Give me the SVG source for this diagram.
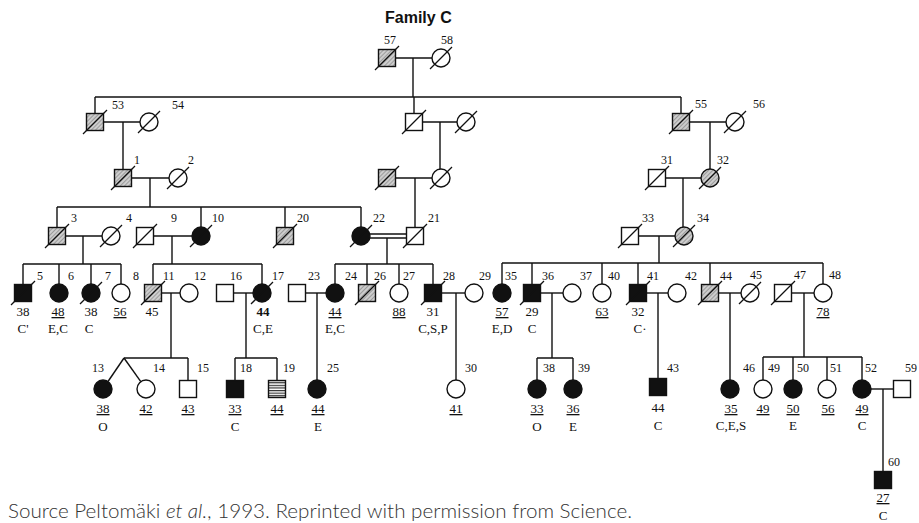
<svg xmlns="http://www.w3.org/2000/svg" width="919" height="523" viewBox="0 0 919 523">
<style>
.ln{stroke:#111;stroke-width:1.4;fill:none}
.sh{stroke:#111;stroke-width:1.4}
.op{fill:#fff}
.fi{fill:#111}
.ha{fill:url(#hatch)}
.st{fill:url(#stripe)}
.sl{stroke:#111;stroke-width:1.3}
.lb{font-family:"Liberation Serif",serif;font-size:12px;fill:#111}
.ag{font-family:"Liberation Serif",serif;font-size:13px;fill:#111;text-anchor:middle}
.u{text-decoration:underline}
</style>
<defs>
<pattern id="hatch" width="3" height="3" patternUnits="userSpaceOnUse" patternTransform="rotate(45)">
<rect width="3" height="3" fill="#cdcdcd"/>
<line x1="0" y1="0" x2="0" y2="3" stroke="#6a6a6a" stroke-width="1"/>
</pattern>
<pattern id="stripe" width="4" height="2.6" patternUnits="userSpaceOnUse">
<rect width="4" height="2.6" fill="#fff"/>
<line x1="0" y1="0.6" x2="4" y2="0.6" stroke="#222" stroke-width="1.1"/>
</pattern>
</defs>
<rect width="919" height="523" fill="#fff"/>
<text x="385" y="23" font-family="Liberation Sans, sans-serif" font-weight="bold" font-size="16" fill="#111">Family C</text>

<g id="connectors" class="ln">
<line x1="395.5" y1="58" x2="432" y2="58"/>
<line x1="413" y1="58" x2="413" y2="97"/>
<line x1="95" y1="97" x2="681" y2="97"/>
<line x1="95" y1="97" x2="95" y2="113.5"/>
<line x1="414" y1="97" x2="414" y2="113.5"/>
<line x1="681" y1="97" x2="681" y2="113.5"/>
<line x1="103.5" y1="122" x2="140" y2="122"/>
<line x1="123" y1="122" x2="123" y2="169.5"/>
<line x1="422.5" y1="122" x2="457" y2="122"/>
<line x1="440" y1="122" x2="440" y2="169"/>
<line x1="689.5" y1="122" x2="726" y2="122"/>
<line x1="710" y1="122" x2="710" y2="169"/>
<line x1="131.5" y1="178" x2="169" y2="178"/>
<line x1="150" y1="178" x2="150" y2="207"/>
<line x1="57" y1="207" x2="361" y2="207"/>
<line x1="57" y1="207" x2="57" y2="227.5"/>
<line x1="201" y1="207" x2="201" y2="227"/>
<line x1="285" y1="207" x2="285" y2="227.5"/>
<line x1="361" y1="207" x2="361" y2="227"/>
<line x1="395.5" y1="178" x2="432" y2="178"/>
<line x1="415" y1="178" x2="415" y2="227.5"/>
<line x1="665.5" y1="178" x2="701" y2="178"/>
<line x1="683" y1="178" x2="683" y2="227"/>
<line x1="65.5" y1="236" x2="102" y2="236"/>
<line x1="83" y1="236" x2="83" y2="264"/>
<line x1="23" y1="264" x2="121" y2="264"/>
<line x1="23" y1="264" x2="23" y2="284.5"/>
<line x1="59" y1="264" x2="59" y2="284"/>
<line x1="91" y1="264" x2="91" y2="284"/>
<line x1="121" y1="264" x2="121" y2="284"/>
<line x1="153.5" y1="236" x2="192" y2="236"/>
<line x1="172" y1="236" x2="172" y2="264"/>
<line x1="153" y1="264" x2="262" y2="264"/>
<line x1="153" y1="264" x2="153" y2="284.5"/>
<line x1="262" y1="264" x2="262" y2="284"/>
<line x1="370" y1="234" x2="406.5" y2="234"/>
<line x1="370" y1="238" x2="406.5" y2="238"/>
<line x1="387" y1="238" x2="387" y2="264"/>
<line x1="335" y1="264" x2="433" y2="264"/>
<line x1="335" y1="264" x2="335" y2="284"/>
<line x1="367" y1="264" x2="367" y2="284.5"/>
<line x1="399" y1="264" x2="399" y2="284"/>
<line x1="433" y1="264" x2="433" y2="284.5"/>
<line x1="638.5" y1="236" x2="675" y2="236"/>
<line x1="659" y1="236" x2="659" y2="263"/>
<line x1="502" y1="263" x2="823" y2="263"/>
<line x1="502" y1="263" x2="502" y2="284"/>
<line x1="532" y1="263" x2="532" y2="284.5"/>
<line x1="602" y1="263" x2="602" y2="284"/>
<line x1="638" y1="263" x2="638" y2="284.5"/>
<line x1="710" y1="263" x2="710" y2="284.5"/>
<line x1="823" y1="263" x2="823" y2="284"/>
<line x1="161.5" y1="293" x2="180" y2="293"/>
<line x1="171" y1="293" x2="171" y2="358"/>
<line x1="124" y1="358" x2="188" y2="358"/>
<line x1="124" y1="358" x2="108" y2="381.5"/>
<line x1="124" y1="358" x2="140.8" y2="381.7"/>
<line x1="188" y1="358" x2="188" y2="380.5"/>
<line x1="233.5" y1="293" x2="253" y2="293"/>
<line x1="246" y1="293" x2="246" y2="358"/>
<line x1="235" y1="358" x2="277" y2="358"/>
<line x1="235" y1="358" x2="235" y2="380.5"/>
<line x1="277" y1="358" x2="277" y2="380.5"/>
<line x1="305.5" y1="293" x2="326" y2="293"/>
<line x1="317" y1="293" x2="317" y2="380"/>
<line x1="441.5" y1="293" x2="465" y2="293"/>
<line x1="456" y1="293" x2="456" y2="380"/>
<line x1="540.5" y1="293" x2="563" y2="293"/>
<line x1="552" y1="293" x2="552" y2="358"/>
<line x1="537" y1="358" x2="573" y2="358"/>
<line x1="537" y1="358" x2="537" y2="380"/>
<line x1="573" y1="358" x2="573" y2="380"/>
<line x1="646.5" y1="293" x2="668" y2="293"/>
<line x1="658" y1="293" x2="658" y2="378.5"/>
<line x1="718.5" y1="293" x2="741" y2="293"/>
<line x1="730" y1="293" x2="730" y2="380"/>
<line x1="791.5" y1="293" x2="814" y2="293"/>
<line x1="804" y1="293" x2="804" y2="357"/>
<line x1="763" y1="357" x2="862" y2="357"/>
<line x1="763" y1="357" x2="763" y2="380"/>
<line x1="793" y1="357" x2="793" y2="380"/>
<line x1="827" y1="357" x2="827" y2="380"/>
<line x1="862" y1="357" x2="862" y2="380"/>
<line x1="871" y1="389" x2="893.5" y2="389"/>
<line x1="883" y1="389" x2="883" y2="471.5"/>
</g>

<!-- Generation I -->
<g id="n57"><rect class="sh ha" x="378.5" y="49.5" width="17" height="17"/><line class="sl" x1="375" y1="70" x2="399" y2="46"/><text class="lb" x="384" y="44">57</text></g>
<g id="n58"><circle class="sh op" cx="441" cy="58" r="9"/><line class="sl" x1="430" y1="69" x2="452" y2="47"/><text class="lb" x="441" y="44">58</text></g>

<!-- Generation II -->
<g id="n53"><rect class="sh ha" x="86.5" y="113.5" width="17" height="17"/><line class="sl" x1="83" y1="134" x2="107" y2="110"/><text class="lb" x="112" y="109">53</text></g>
<g id="n54"><circle class="sh op" cx="149" cy="122" r="9"/><line class="sl" x1="138" y1="133" x2="160" y2="111"/><text class="lb" x="172" y="109">54</text></g>
<g id="nB1"><rect class="sh op" x="405.5" y="113.5" width="17" height="17"/><line class="sl" x1="402" y1="134" x2="426" y2="110"/></g>
<g id="nB2"><circle class="sh op" cx="466" cy="122" r="9"/><line class="sl" x1="455" y1="133" x2="477" y2="111"/></g>
<g id="n55"><rect class="sh ha" x="672.5" y="113.5" width="17" height="17"/><line class="sl" x1="669" y1="134" x2="693" y2="110"/><text class="lb" x="695" y="108">55</text></g>
<g id="n56"><circle class="sh op" cx="735" cy="122" r="9"/><line class="sl" x1="724" y1="133" x2="746" y2="111"/><text class="lb" x="753" y="108">56</text></g>

<!-- Generation III -->
<g id="n1"><rect class="sh ha" x="114.5" y="169.5" width="17" height="17"/><line class="sl" x1="111" y1="190" x2="135" y2="166"/><text class="lb" x="134" y="164">1</text></g>
<g id="n2"><circle class="sh op" cx="178" cy="178" r="9"/><line class="sl" x1="167" y1="189" x2="189" y2="167"/><text class="lb" x="188" y="164">2</text></g>
<g id="nC1"><rect class="sh ha" x="378.5" y="169.5" width="17" height="17"/><line class="sl" x1="375" y1="190" x2="399" y2="166"/></g>
<g id="nC2"><circle class="sh op" cx="441" cy="178" r="9"/><line class="sl" x1="430" y1="189" x2="452" y2="167"/></g>
<g id="n31"><rect class="sh op" x="648.5" y="169.5" width="17" height="17"/><line class="sl" x1="645" y1="190" x2="669" y2="166"/><text class="lb" x="661" y="164">31</text></g>
<g id="n32"><circle class="sh ha" cx="710" cy="178" r="9"/><line class="sl" x1="699" y1="189" x2="721" y2="167"/><text class="lb" x="717" y="164">32</text></g>

<g id="n3"><rect class="sh ha" x="48.5" y="227.5" width="17" height="17"/><line class="sl" x1="45" y1="248" x2="69" y2="224"/><text class="lb" x="71" y="222">3</text></g>
<g id="n4"><circle class="sh op" cx="111" cy="236" r="9"/><line class="sl" x1="100" y1="247" x2="122" y2="225"/><text class="lb" x="126" y="222">4</text></g>
<g id="n9"><rect class="sh op" x="136.5" y="227.5" width="17" height="17"/><line class="sl" x1="133" y1="248" x2="157" y2="224"/><text class="lb" x="171" y="222">9</text></g>
<g id="n10"><circle class="sh fi" cx="201" cy="236" r="9"/><line class="sl" x1="190" y1="247" x2="212" y2="225"/><text class="lb" x="212" y="222">10</text></g>
<g id="n20"><rect class="sh ha" x="276.5" y="227.5" width="17" height="17"/><line class="sl" x1="273" y1="248" x2="297" y2="224"/><text class="lb" x="297" y="222">20</text></g>
<g id="n22"><circle class="sh fi" cx="361" cy="236" r="9"/><line class="sl" x1="350" y1="247" x2="372" y2="225"/><text class="lb" x="373" y="222">22</text></g>
<g id="n21"><rect class="sh op" x="406.5" y="227.5" width="17" height="17"/><line class="sl" x1="403" y1="248" x2="427" y2="224"/><text class="lb" x="428" y="222">21</text></g>
<g id="n33"><rect class="sh op" x="621.5" y="227.5" width="17" height="17"/><line class="sl" x1="618" y1="248" x2="642" y2="224"/><text class="lb" x="642" y="222">33</text></g>
<g id="n34"><circle class="sh ha" cx="684" cy="236" r="9"/><line class="sl" x1="673" y1="247" x2="695" y2="225"/><text class="lb" x="697" y="222">34</text></g>

<!-- Generation IV -->
<g id="n5"><rect class="sh fi" x="14.5" y="284.5" width="17" height="17"/><line class="sl" x1="11" y1="305" x2="35" y2="281"/><text class="lb" x="37" y="280">5</text><text class="ag" x="23" y="316">38</text><text class="ag" x="23" y="333">C'</text></g>
<g id="n6"><circle class="sh fi" cx="59" cy="293" r="9"/><text class="lb" x="68" y="280">6</text><text class="ag u" x="58" y="316">48</text><text class="ag" x="58" y="333">E,C</text></g>
<g id="n7"><circle class="sh fi" cx="91" cy="293" r="9"/><line class="sl" x1="80" y1="304" x2="102" y2="282"/><text class="lb" x="105" y="280">7</text><text class="ag" x="91" y="316">38</text><text class="ag" x="89" y="333">C</text></g>
<g id="n8"><circle class="sh op" cx="121" cy="293" r="9"/><text class="lb" x="133" y="280">8</text><text class="ag u" x="120" y="316">56</text></g>
<g id="n11"><rect class="sh ha" x="144.5" y="284.5" width="17" height="17"/><line class="sl" x1="141" y1="305" x2="165" y2="281"/><text class="lb" x="163" y="280">11</text><text class="ag" x="152" y="316">45</text></g>
<g id="n12"><circle class="sh op" cx="189" cy="293" r="9"/><text class="lb" x="194" y="280">12</text></g>
<g id="n16"><rect class="sh op" x="216.5" y="284.5" width="17" height="17"/><text class="lb" x="230" y="280">16</text></g>
<g id="n17"><circle class="sh fi" cx="262" cy="293" r="9"/><line class="sl" x1="251" y1="304" x2="273" y2="282"/><text class="lb" x="272" y="280">17</text><text class="ag" x="263" y="316" font-weight="bold">44</text><text class="ag" x="263" y="333">C,E</text></g>
<g id="n23"><rect class="sh op" x="288.5" y="284.5" width="17" height="17"/><text class="lb" x="308" y="280">23</text></g>
<g id="n24"><circle class="sh fi" cx="335" cy="293" r="9"/><text class="lb" x="345" y="280">24</text><text class="ag u" x="335" y="316">44</text><text class="ag" x="335" y="333">E,C</text></g>
<g id="n26"><rect class="sh ha" x="358.5" y="284.5" width="17" height="17"/><line class="sl" x1="355" y1="305" x2="379" y2="281"/><text class="lb" x="374" y="280">26</text></g>
<g id="n27"><circle class="sh op" cx="399" cy="293" r="9"/><text class="lb" x="403" y="280">27</text><text class="ag u" x="399" y="316">88</text></g>
<g id="n28"><rect class="sh fi" x="424.5" y="284.5" width="17" height="17"/><line class="sl" x1="421" y1="305" x2="445" y2="281"/><text class="lb" x="443" y="280">28</text><text class="ag" x="433" y="316">31</text><text class="ag" x="433" y="333">C,S,P</text></g>
<g id="n29"><circle class="sh op" cx="474" cy="293" r="9"/><text class="lb" x="479" y="280">29</text></g>
<g id="n35"><circle class="sh fi" cx="502" cy="293" r="9"/><text class="lb" x="505" y="280">35</text><text class="ag u" x="502" y="316">57</text><text class="ag" x="502" y="333">E,D</text></g>
<g id="n36"><rect class="sh fi" x="523.5" y="284.5" width="17" height="17"/><line class="sl" x1="520" y1="305" x2="544" y2="281"/><text class="lb" x="542" y="280">36</text><text class="ag" x="532" y="316">29</text><text class="ag" x="532" y="333">C</text></g>
<g id="n37"><circle class="sh op" cx="572" cy="293" r="9"/><text class="lb" x="580" y="280">37</text></g>
<g id="n40"><circle class="sh op" cx="602" cy="293" r="9"/><text class="lb" x="608" y="280">40</text><text class="ag u" x="602" y="316">63</text></g>
<g id="n41"><rect class="sh fi" x="629.5" y="284.5" width="17" height="17"/><line class="sl" x1="626" y1="305" x2="650" y2="281"/><text class="lb" x="647" y="280">41</text><text class="ag" x="638" y="316">32</text><text class="ag" x="640" y="333">C·</text></g>
<g id="n42"><circle class="sh op" cx="677" cy="293" r="9"/><text class="lb" x="685" y="280">42</text></g>
<g id="n44"><rect class="sh ha" x="701.5" y="284.5" width="17" height="17"/><line class="sl" x1="698" y1="305" x2="722" y2="281"/><text class="lb" x="720" y="280">44</text></g>
<g id="n45"><circle class="sh op" cx="750" cy="293" r="9"/><line class="sl" x1="739" y1="304" x2="761" y2="282"/><text class="lb" x="750" y="279">45</text></g>
<g id="n47"><rect class="sh op" x="774.5" y="284.5" width="17" height="17"/><line class="sl" x1="771" y1="305" x2="795" y2="281"/><text class="lb" x="794" y="279">47</text></g>
<g id="n48"><circle class="sh op" cx="823" cy="293" r="9"/><text class="lb" x="829" y="279">48</text><text class="ag u" x="823" y="316">78</text></g>

<!-- Generation V -->
<g id="n13"><circle class="sh fi" cx="103" cy="389" r="9"/><text class="lb" x="92" y="372">13</text><text class="ag u" x="103" y="413">38</text><text class="ag" x="103" y="431">O</text></g>
<g id="n14"><circle class="sh op" cx="146" cy="389" r="9"/><text class="lb" x="153" y="372">14</text><text class="ag u" x="146" y="413">42</text></g>
<g id="n15"><rect class="sh op" x="179.5" y="380.5" width="17" height="17"/><text class="lb" x="197" y="372">15</text><text class="ag u" x="188" y="413">43</text></g>
<g id="n18"><rect class="sh fi" x="226.5" y="380.5" width="17" height="17"/><text class="lb" x="240" y="372">18</text><text class="ag u" x="235" y="413">33</text><text class="ag" x="235" y="431">C</text></g>
<g id="n19"><rect class="sh st" x="268.5" y="380.5" width="17" height="17"/><text class="lb" x="283" y="372">19</text><text class="ag u" x="277" y="413">44</text></g>
<g id="n25"><circle class="sh fi" cx="317" cy="389" r="9"/><text class="lb" x="327" y="372">25</text><text class="ag u" x="318" y="413">44</text><text class="ag" x="318" y="431">E</text></g>
<g id="n30"><circle class="sh op" cx="456" cy="389" r="9"/><text class="lb" x="465" y="372">30</text><text class="ag u" x="456" y="413">41</text></g>
<g id="n38"><circle class="sh fi" cx="537" cy="389" r="9"/><text class="lb" x="543" y="372">38</text><text class="ag u" x="537" y="413">33</text><text class="ag" x="537" y="431">O</text></g>
<g id="n39"><circle class="sh fi" cx="573" cy="389" r="9"/><text class="lb" x="578" y="372">39</text><text class="ag u" x="573" y="413">36</text><text class="ag" x="573" y="431">E</text></g>
<g id="n43"><rect class="sh fi" x="649.5" y="378.5" width="17" height="17"/><text class="lb" x="667" y="372">43</text><text class="ag" x="658" y="412">44</text><text class="ag" x="658" y="430">C</text></g>
<g id="n46"><circle class="sh fi" cx="730" cy="389" r="9"/><text class="lb" x="743" y="372">46</text><text class="ag u" x="731" y="413">35</text><text class="ag" x="731" y="430">C,E,S</text></g>
<g id="n49"><circle class="sh op" cx="763" cy="389" r="9"/><text class="lb" x="768" y="372">49</text><text class="ag u" x="763" y="413">49</text></g>
<g id="n50"><circle class="sh fi" cx="793" cy="389" r="9"/><text class="lb" x="797" y="372">50</text><text class="ag u" x="793" y="413">50</text><text class="ag" x="793" y="430">E</text></g>
<g id="n51"><circle class="sh op" cx="827" cy="389" r="9"/><text class="lb" x="830" y="372">51</text><text class="ag u" x="828" y="413">56</text></g>
<g id="n52"><circle class="sh fi" cx="862" cy="389" r="9"/><text class="lb" x="865" y="372">52</text><text class="ag u" x="862" y="413">49</text><text class="ag" x="862" y="430">C</text></g>
<g id="n59"><rect class="sh op" x="893.5" y="380.5" width="17" height="17"/><text class="lb" x="905" y="372">59</text></g>
<g id="n60"><rect class="sh fi" x="874.5" y="471.5" width="17" height="17"/><text class="lb" x="888" y="466">60</text><text class="ag u" x="883" y="502">27</text><text class="ag" x="883" y="520">C</text></g>

<text x="8" y="518" font-family="Lato, sans-serif" font-size="20" font-weight="300" fill="#333" textLength="624" lengthAdjust="spacingAndGlyphs">Source Peltomäki <tspan font-style="italic">et al.</tspan>, 1993. Reprinted with permission from Science.</text>
</svg>
